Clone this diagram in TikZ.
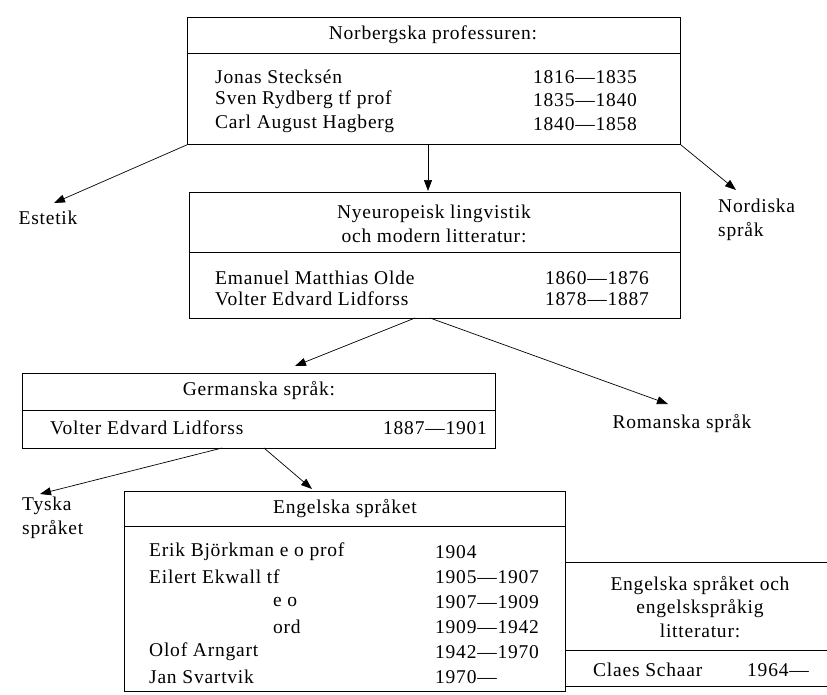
\documentclass[tikz,border=0pt]{standalone}
\usepackage{fontspec}
\setmainfont{Liberation Serif}[LetterSpace=4.0]
\usetikzlibrary{arrows.meta}
\begin{document}
\begin{tikzpicture}[x=1pt,y=-1pt,
  txt/.style={inner sep=0pt, font=\fontsize{19.5}{23.5}\selectfont},
  lt/.style={txt, anchor=west},
  boxx/.style={draw, line width=0.8pt, inner sep=0pt, anchor=north west},
  rule/.style={line width=0.8pt},
  arr/.style={line width=0.7pt, -{Triangle[length=11pt,width=8pt]}}]
\useasboundingbox (0,0) rectangle (827,694);
% ---------- top box ----------
\node[boxx, minimum width=493pt, minimum height=127pt] (topbox) at (187,17) {};
\coordinate (topdivL) at (187,53); \coordinate (topdivR) at (680,53);
\draw[rule] (topdivL) -- (topdivR);
\node[txt] (toptitle) at (433,35) {Norbergska professuren:};
\node[lt] (t1n) at (215,77) {Jonas Stecksén};
\node[lt] (t1y) at (533,77) {1816—1835};
\node[lt] (t2n) at (215,100) {Sven Rydberg tf prof};
\node[lt] (t2y) at (533,100) {1835—1840};
\node[lt] (t3n) at (215,124) {Carl August Hagberg};
\node[lt] (t3y) at (533,124) {1840—1858};
% ---------- side labels ----------
\node[txt] (estetik) at (48,218) {Estetik};
\node[txt, align=left, anchor=north west] (nordiska) at (718,199) {Nordiska\\språk};
\coordinate (estTip) at (54,203);
\coordinate (nordTip) at (736,190);
% ---------- middle box ----------
\node[boxx, minimum width=491pt, minimum height=126pt] (midbox) at (189,192) {};
\coordinate (middivL) at (189,252); \coordinate (middivR) at (680,252);
\draw[rule] (middivL) -- (middivR);
\node[txt, align=center] (midtitle) at (434,224) {Nyeuropeisk lingvistik\\och modern litteratur:};
\node[lt] (m1n) at (215,278) {Emanuel Matthias Olde};
\node[lt] (m1y) at (545,278) {1860—1876};
\node[lt] (m2n) at (215,299) {Volter Edvard Lidforss};
\node[lt] (m2y) at (545,299) {1878—1887};
% arrows from top box
\coordinate (topDown) at (428,144);
\coordinate (midTop) at (428,191);
\draw[arr] (topbox.south west) -- (estTip);
\draw[arr] (topDown) -- (midTop);
\draw[arr] (topbox.south east) -- (nordTip);
% ---------- Germanska box ----------
\node[boxx, minimum width=473pt, minimum height=75pt] (germbox) at (22,373) {};
\coordinate (germdivL) at (22,410); \coordinate (germdivR) at (495,410);
\draw[rule] (germdivL) -- (germdivR);
\node[txt] (germtitle) at (259,391) {Germanska språk:};
\node[lt] (g1n) at (50,428) {Volter Edvard Lidforss};
\node[lt] (g1y) at (383,428) {1887—1901};
\node[txt] (romanska) at (682,424) {Romanska språk};
\coordinate (romTip) at (668,404);
\coordinate (germTip) at (295,366);
\coordinate (midOut1) at (415,318);
\coordinate (midOut2) at (430,318);
\draw[arr] (midOut1) -- (germTip);
\draw[arr] (midOut2) -- (romTip);
% ---------- Engelska box ----------
\node[boxx, minimum width=441pt, minimum height=200pt] (engbox) at (124,491) {};
\coordinate (engdivL) at (124,526); \coordinate (engdivR) at (565,526);
\draw[rule] (engdivL) -- (engdivR);
\node[txt] (engtitle) at (345,509) {Engelska språket};
\node[lt] (e1n) at (149,552) {Erik Björkman e o prof};
\node[lt] (e1y) at (435,552) {1904};
\node[lt] (e2n) at (149,577) {Eilert Ekwall tf};
\node[lt] (e2y) at (435,577) {1905—1907};
\node[lt] (e3n) at (273,602) {e o};
\node[lt] (e3y) at (435,602) {1907—1909};
\node[lt] (e4n) at (273,627) {ord};
\node[lt] (e4y) at (435,627) {1909—1942};
\node[lt] (e5n) at (149,652) {Olof Arngart};
\node[lt] (e5y) at (435,652) {1942—1970};
\node[lt] (e6n) at (149,677) {Jan Svartvik};
\node[lt] (e6y) at (435,677) {1970—};
% Tyska
\node[txt, align=left, anchor=north west] (tyska) at (22,497) {Tyska\\språket};
\coordinate (tyskaTip) at (40,494);
\coordinate (germOut1) at (222,448);
\coordinate (germOut2) at (264,448);
\coordinate (engTip) at (312,489);
\draw[arr] (germOut1) -- (tyskaTip);
\draw[arr] (germOut2) -- (engTip);
% ---------- right box (open to the right) ----------
\coordinate (rTopL) at (565,562); \coordinate (rTopR) at (827,562);
\coordinate (rDivL) at (565,650); \coordinate (rDivR) at (827,650);
\coordinate (rBotL) at (565,686); \coordinate (rBotR) at (827,686);
\draw[rule] (rTopL) -- (rTopR);
\draw[rule] (rDivL) -- (rDivR);
\draw[rule] (rBotL) -- (rBotR);
\node[txt, align=center] (righttitle) at (700,607) {Engelska språket och\\engelskspråkig\\litteratur:};
\node[lt] (r1n) at (593,670) {Claes Schaar};
\node[lt] (r1y) at (747,670) {1964—};
\end{tikzpicture}
\end{document}
